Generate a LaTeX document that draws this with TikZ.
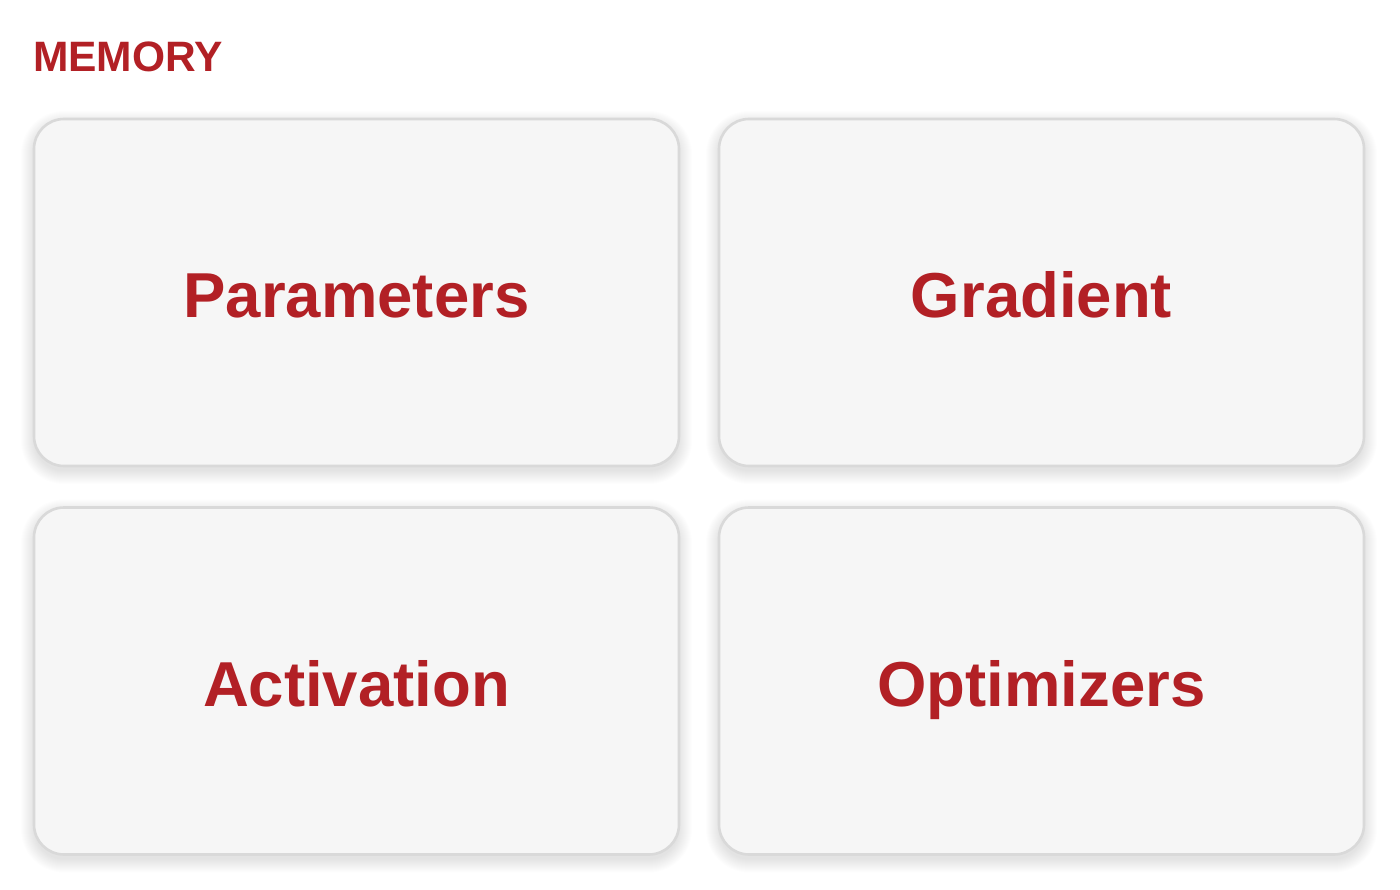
\documentclass[tikz,border=0pt]{standalone}
\usepackage{fontspec}
\setmainfont{Liberation Sans}
\definecolor{memred}{HTML}{B22025}
\definecolor{boxfill}{HTML}{F6F6F6}
\definecolor{boxline}{HTML}{D9D9D9}
\tikzset{
  card/.style={draw=boxline, line width=2.6pt, fill=boxfill, rounded corners=30pt,
    minimum width=645pt, minimum height=347pt, inner sep=0pt},
  softshadow/.style={fill=black, fill opacity=0.006},
  cardlabel/.style={text=memred, font=\fontsize{63.5}{70}\selectfont\bfseries, anchor=base, inner sep=0pt},
  heading/.style={text=memred, font=\fontsize{42.5}{46}\selectfont\bfseries, anchor=base west, inner sep=0pt}
}
\begin{document}
\begin{tikzpicture}[x=1pt,y=-1pt]
\path[use as bounding box, fill=white] (0,0) rectangle (1400,890);
\foreach \cx/\cy in {356.5/292.5, 1041.5/292.5, 356.5/681, 1041.5/681}{
  \foreach \e in {0,1,...,13}{
    \fill[softshadow, rounded corners=30pt+\e pt]
      (\cx-322.5-\e, \cy-173.5-\e+5) rectangle (\cx+322.5+\e, \cy+173.5+\e+5);
  }
}
\node[heading] (title) at (33,72) {MEMORY};
\node[card] (params) at (356.5,292.5) {};
\node[card] (grad) at (1041.5,292.5) {};
\node[card] (act) at (356.5,681) {};
\node[card] (opt) at (1041.5,681) {};
\node[cardlabel] (lparams) at (356.5,317.5) {Parameters};
\node[cardlabel] (lgrad) at (1041.5,317.5) {Gradient};
\node[cardlabel] (lact) at (356.5,706) {Activation};
\node[cardlabel] (lopt) at (1041.5,706) {Optimizers};
\end{tikzpicture}
\end{document}
